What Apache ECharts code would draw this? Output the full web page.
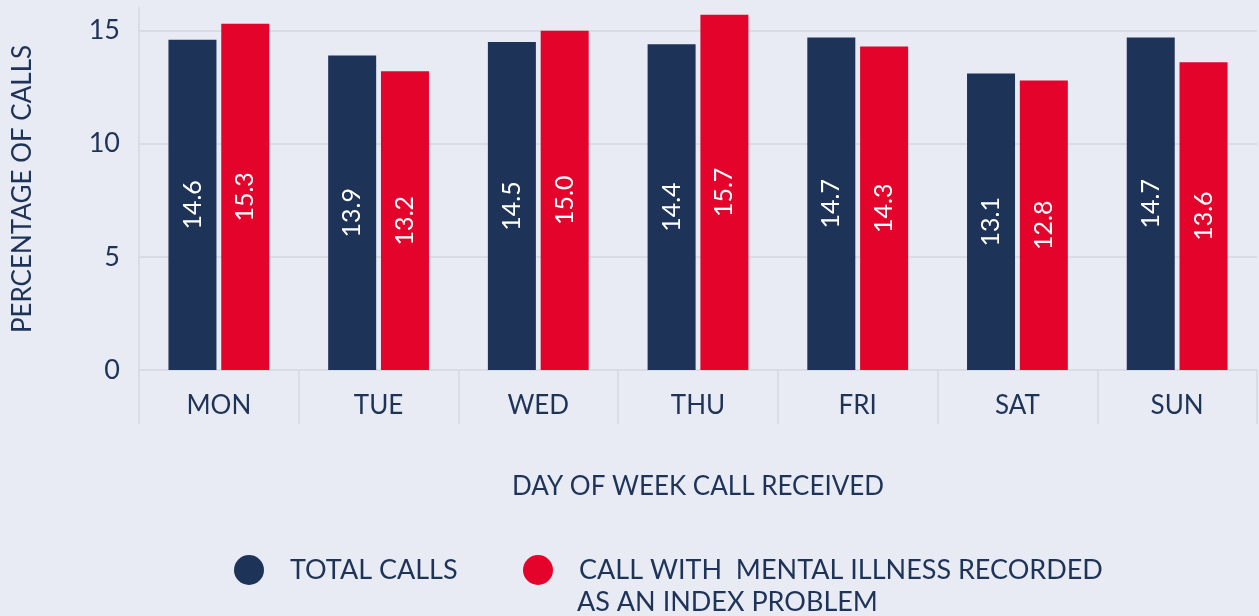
<!DOCTYPE html>
<html>
<head>
<meta charset="utf-8">
<script src="https://cdn.jsdelivr.net/npm/echarts@6/dist/echarts.min.js"></script>
<style>
  html, body { margin: 0; padding: 0; background: #e8ebf3; }
  #chart { width: 1259px; height: 616px; }
</style>
</head>
<body>
<div id="chart"></div>
<script>
const days = ['MON', 'TUE', 'WED', 'THU', 'FRI', 'SAT', 'SUN']
const totalCalls = [14.6, 13.9, 14.5, 14.4, 14.7, 13.1, 14.7]
const mentalIllnessCalls = [15.3, 13.2, 15.0, 15.7, 14.3, 12.8, 13.6]

const totalName = 'TOTAL CALLS'
const mentalName = 'CALL WITH  MENTAL ILLNESS RECORDED\nAS AN INDEX PROBLEM'

const navy = '#1e3358'
const red = '#e4032b'
const gridColor = '#d9dce3'
const font = 'Lato'

const chart = echarts.init(document.getElementById('chart'))

const barLabel = {
  show: true,
  position: 'inside',
  rotate: 90,
  color: '#fff',
  fontSize: 25,
  fontFamily: font,
  formatter: p => p.value.toFixed(1)
}

const legendBase = {
  top: 555,
  padding: 0,
  icon: 'circle',
  itemWidth: 30,
  itemHeight: 30,
  selectedMode: false,
  textStyle: { color: navy, fontSize: 27, fontFamily: font, padding: [0, 0, 0, 21] }
}

chart.setOption({
  backgroundColor: '#e8ebf3',
  textStyle: { fontFamily: font },
  grid: { left: 139, right: 2, top: 8, bottom: 246, containLabel: false },
  legend: [
    Object.assign({}, legendBase, { left: 234, data: [totalName] }),
    Object.assign({}, legendBase, {
      left: 523,
      data: [mentalName],
      formatter: name => name.split('\n')[0]
    })
  ],
  // second line of the long legend entry
  title: {
    text: mentalName.split('\n')[1],
    left: 577,
    top: 589,
    padding: 0,
    textStyle: { color: navy, fontSize: 27, fontFamily: font, fontWeight: 'normal' }
  },
  xAxis: {
    type: 'category',
    data: days,
    name: 'DAY OF WEEK CALL RECEIVED',
    nameLocation: 'middle',
    nameGap: 104,
    nameTextStyle: { color: navy, fontSize: 26, fontFamily: font, verticalAlign: 'top' },
    axisLine: { show: true, lineStyle: { color: gridColor, width: 2 } },
    axisTick: { show: true, alignWithLabel: false, length: 54, lineStyle: { color: gridColor, width: 2 } },
    axisLabel: { color: navy, fontSize: 26, fontFamily: font, margin: 23 }
  },
  yAxis: {
    type: 'value',
    min: 0,
    max: 16,
    interval: 5,
    name: 'PERCENTAGE OF CALLS',
    nameLocation: 'middle',
    nameGap: 103,
    nameTextStyle: { color: navy, fontSize: 26, fontFamily: font },
    axisLine: { show: true, lineStyle: { color: gridColor, width: 2 } },
    axisTick: { show: false },
    axisLabel: { color: navy, fontSize: 27, fontFamily: font, margin: 19, showMaxLabel: false },
    splitLine: { show: true, showMaxLine: false, lineStyle: { color: gridColor, width: 2 } }
  },
  series: [
    {
      name: totalName,
      type: 'bar',
      data: totalCalls,
      barWidth: 48,
      barGap: '10%',
      itemStyle: { color: navy },
      label: barLabel
    },
    {
      name: mentalName,
      type: 'bar',
      data: mentalIllnessCalls,
      barWidth: 48,
      itemStyle: { color: red },
      label: barLabel
    }
  ]
})
</script>
</body>
</html>
